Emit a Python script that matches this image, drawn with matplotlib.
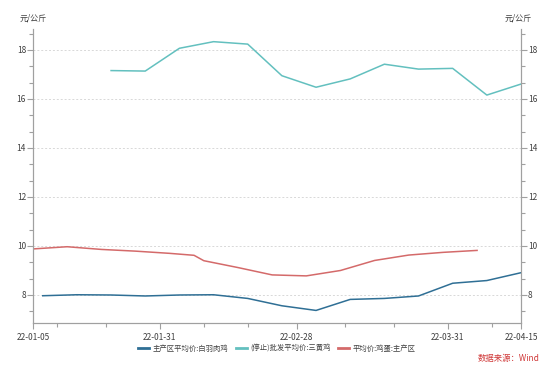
import matplotlib
matplotlib.use("Agg")
import matplotlib.pyplot as plt
import matplotlib.dates as mdates
from matplotlib.ticker import MultipleLocator, FixedLocator
import pandas as pd

plt.rcParams['font.family'] = ['Noto Sans CJK SC', 'DejaVu Sans']

# ---- data ----
broiler_dates = ["2022-01-07", "2022-01-14", "2022-01-21", "2022-01-28", "2022-02-04",
                 "2022-02-11", "2022-02-18", "2022-02-25", "2022-03-04", "2022-03-11",
                 "2022-03-18", "2022-03-25", "2022-04-01", "2022-04-08", "2022-04-15"]
broiler_values = [7.97, 8.01, 8.00, 7.96, 8.00, 8.01, 7.86, 7.56, 7.37, 7.82,
                  7.86, 7.96, 8.48, 8.59, 8.91]

yellow_dates = ["2022-01-21", "2022-01-28", "2022-02-04", "2022-02-11", "2022-02-18",
                "2022-02-25", "2022-03-04", "2022-03-11", "2022-03-18", "2022-03-25",
                "2022-04-01", "2022-04-08", "2022-04-15"]
yellow_values = [17.16, 17.14, 18.07, 18.34, 18.24, 16.95, 16.48, 16.82, 17.42,
                 17.22, 17.25, 16.16, 16.61]

egg_dates = ["2022-01-05", "2022-01-12", "2022-01-19", "2022-01-26", "2022-02-02",
             "2022-02-07", "2022-02-09", "2022-02-16", "2022-02-23", "2022-03-02",
             "2022-03-09", "2022-03-16", "2022-03-23", "2022-03-30", "2022-04-06"]
egg_values = [9.88, 9.97, 9.86, 9.79, 9.70, 9.62, 9.40, 9.12, 8.82, 8.78,
              9.00, 9.41, 9.63, 9.74, 9.82]

series_names = ["主产区平均价:白羽肉鸡", "(停止)批发平均价:三黄鸡", "平均价:鸡蛋:主产区"]
series_colors = ["#2f6f95", "#63c0bf", "#d46a6a"]

major_tick_dates = ["2022-01-05", "2022-01-31", "2022-02-28", "2022-03-31", "2022-04-15"]
major_tick_labels = ["22-01-05", "22-01-31", "22-02-28", "22-03-31", "22-04-15"]
minor_tick_dates = ["2022-01-10", "2022-01-20", "2022-02-09", "2022-02-18",
                    "2022-03-10", "2022-03-20", "2022-04-09"]
y_ticks = [8, 10, 12, 14, 16, 18]
unit_label = "元/公斤"
source_text = "数据来源：Wind"

# ---- plot ----
fig = plt.figure(figsize=(5.54, 3.70), dpi=100)
ax = fig.add_axes([33/554, 1-323/370, (521-33)/554, (323-29)/370])
axis_color = "#a0a0a0"
text_color = "#404040"

for d, v, name, c in zip([broiler_dates, yellow_dates, egg_dates],
                         [broiler_values, yellow_values, egg_values],
                         series_names, series_colors):
    ax.plot(pd.to_datetime(d), v, color=c, lw=1.1, label=name)

ax.set_xlim(pd.Timestamp("2022-01-05"), pd.Timestamp("2022-04-15"))
ax.set_ylim(6.857, 18.857)

ax.xaxis.set_major_locator(FixedLocator(mdates.date2num(pd.to_datetime(major_tick_dates))))
ax.set_xticklabels(major_tick_labels)
ax.xaxis.set_minor_locator(FixedLocator(mdates.date2num(pd.to_datetime(minor_tick_dates))))

ax.set_yticks(y_ticks)
ax.yaxis.set_minor_locator(MultipleLocator(2/3))
ax.grid(axis='y', which='major', color="#d8d8d8", linestyle=(0, (2, 2)), lw=0.7)

ax2 = ax.twinx()
ax2.set_ylim(ax.get_ylim())
ax2.set_yticks(y_ticks)
ax2.yaxis.set_minor_locator(MultipleLocator(2/3))

for a in (ax, ax2):
    for s in a.spines.values():
        s.set_color(axis_color)
        s.set_linewidth(0.8)
    a.spines['top'].set_visible(False)
    a.tick_params(which='both', colors=axis_color, labelcolor=text_color,
                  labelsize=6, width=0.8)
    a.tick_params(which='major', length=4)
    a.tick_params(which='minor', length=3)
ax.tick_params(axis='x', pad=3)
ax.tick_params(axis='y', pad=1)
ax2.tick_params(axis='y', pad=1)

fig.text(20/554, 1-18/370, unit_label, fontsize=5.8, color=text_color, ha='left', va='center')
fig.text(532/554, 1-18/370, unit_label, fontsize=5.8, color=text_color, ha='right', va='center')

handles, labels = ax.get_legend_handles_labels()
leg = fig.legend(handles, labels, loc='center', bbox_to_anchor=(277/554, 1-349/370),
                 ncol=3, frameon=False, fontsize=5.3, handlelength=1.5,
                 columnspacing=1.0, handletextpad=0.5, labelcolor=text_color)
for line in leg.get_lines():
    line.set_linewidth(2)

fig.text(540/554, 1-359/370, source_text, fontsize=6, color="#d03838",
         ha='right', va='center')

fig.savefig("out.png", dpi=100)
